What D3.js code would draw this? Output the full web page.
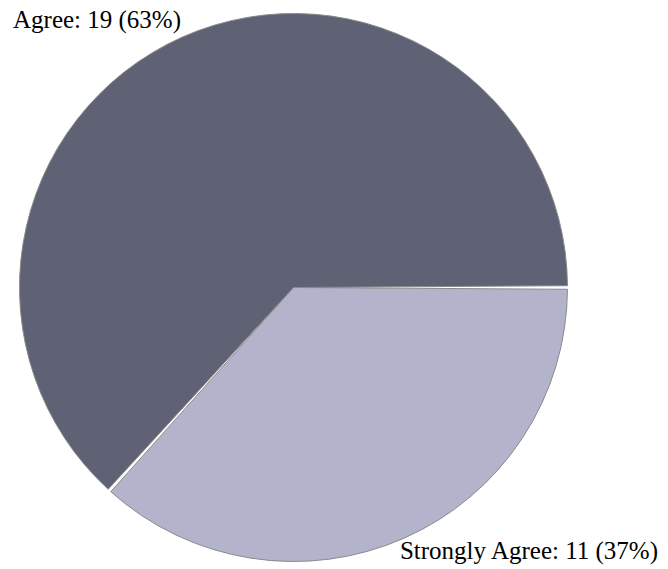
<!DOCTYPE html>
<html>
<head>
<meta charset="utf-8">
<script src="https://cdn.jsdelivr.net/npm/d3@7"></script>
<style>
  body { margin: 0; background: #fff; }
  svg { display: block; }
  text { font-family: "Liberation Serif", "Times New Roman", serif; fill: #000; }
</style>
</head>
<body>
<script>
const categories = ["Strongly Agree", "Agree"];
const counts = [11, 19];
const percents = [37, 63];
const colors = ["#b3b4cc", "#5f6174"];

const width = 668, height = 569;
const cx = 293.5, cy = 287.5, radius = 274;

const svg = d3.select("body").append("svg")
  .attr("width", width)
  .attr("height", height);

const pie = d3.pie()
  .sort(null)
  .value(d => d)
  .startAngle(Math.PI / 2)
  .endAngle(Math.PI / 2 + 2 * Math.PI)
  .padAngle(0.013);

const arc = d3.arc()
  .innerRadius(0)
  .outerRadius(radius);

const g = svg.append("g").attr("transform", `translate(${cx},${cy})`);

g.selectAll("path.slice")
  .data(pie(counts))
  .enter()
  .append("path")
  .attr("class", "slice")
  .attr("d", arc)
  .style("fill", (d, i) => colors[i])
  .style("stroke", "#8a8a8a")
  .style("stroke-width", 1);

// labels
const labels = [
  { i: 1, x: 13, y: 28, anchor: "start" },
  { i: 0, x: 658, y: 559, anchor: "end" }
];

svg.selectAll("text.label")
  .data(labels)
  .enter()
  .append("text")
  .attr("class", "label")
  .attr("x", d => d.x)
  .attr("y", d => d.y)
  .attr("text-anchor", d => d.anchor)
  .style("font-size", "25px")
  .text(d => `${categories[d.i]}: ${counts[d.i]} (${percents[d.i]}%)`);
</script>
</body>
</html>
